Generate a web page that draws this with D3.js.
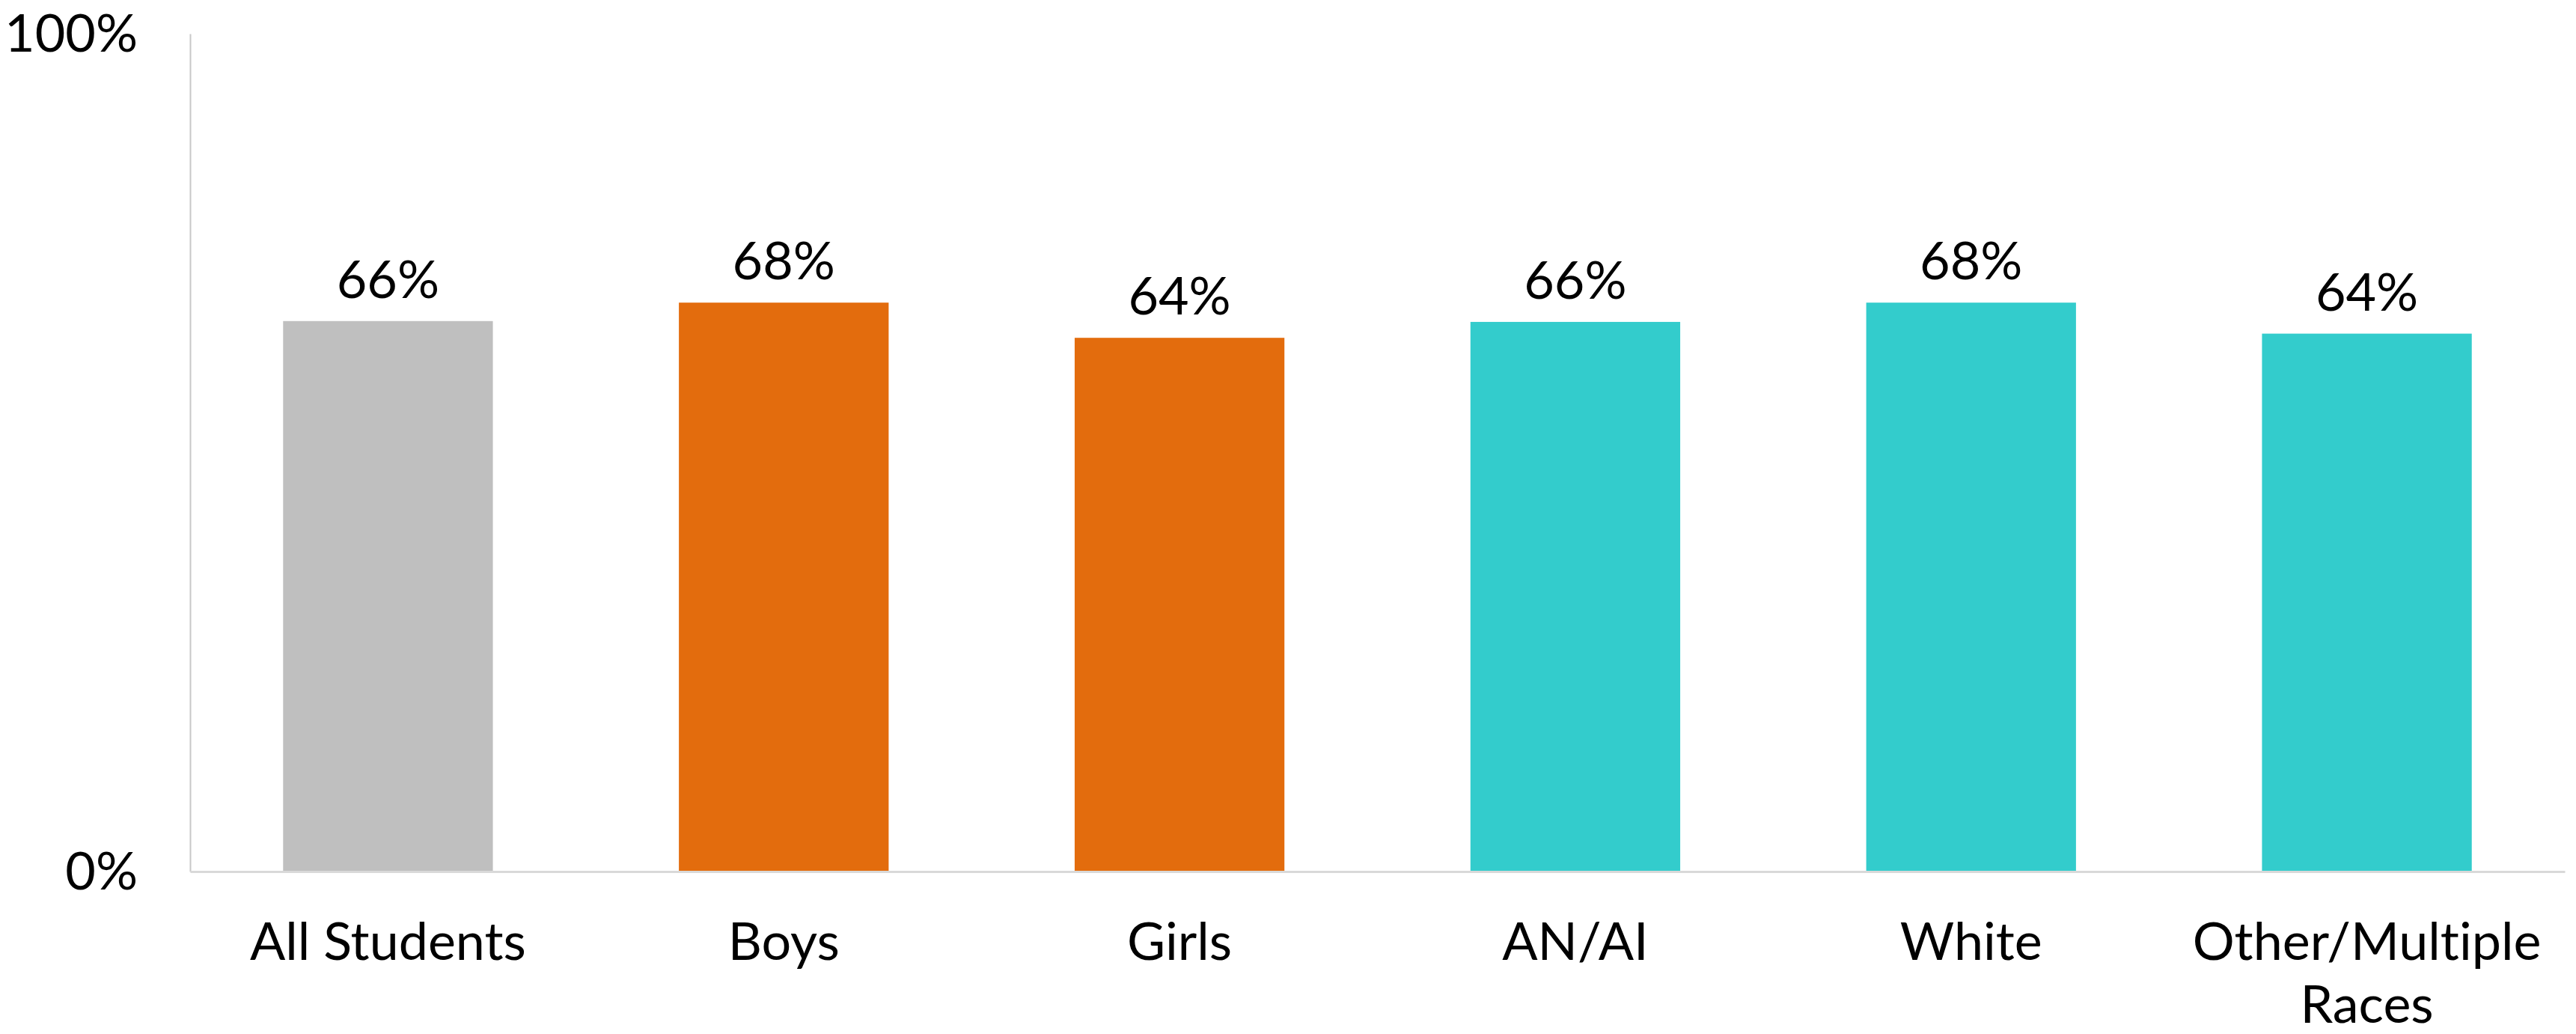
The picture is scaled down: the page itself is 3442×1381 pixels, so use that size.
<!DOCTYPE html>
<html>
<head>
<meta charset="utf-8">
<script src="https://cdn.jsdelivr.net/npm/d3@7"></script>
<style>
  body { margin: 0; background: #fff; }
  text { font-family: Lato, "Open Sans", sans-serif; fill: #000; font-variant-ligatures: none; }
</style>
</head>
<body>
<svg id="chart" width="3442" height="1381"></svg>
<script>
// values
var categories = ["All Students", "Boys", "Girls", "AN/AI", "White", "Other/Multiple Races"];
var values = [65.7, 67.9, 63.7, 65.6, 67.9, 64.2];
var labels = ["66%", "68%", "64%", "66%", "68%", "64%"];
var groups = ["all", "gender", "gender", "race", "race", "race"];
var yTicks = [0, 100];

var colors = { all: "#bfbfbf", gender: "#e36c0d", race: "#33cccc" };

var svg = d3.select("#chart");
var plotLeft = 254, plotRight = 3427, plotTop = 45, plotBottom = 1164;

var x = d3.scaleBand().domain(categories).range([plotLeft, plotRight]).paddingInner(0.47).paddingOuter(0.235);
var y = d3.scaleLinear().domain([0, 100]).range([plotBottom, plotTop]);

// bars
svg.selectAll("rect.bar")
  .data(values)
  .enter().append("rect")
  .attr("class", "bar")
  .attr("x", function(d, i){ return x(categories[i]); })
  .attr("width", x.bandwidth())
  .attr("y", function(d){ return y(d); })
  .attr("height", function(d){ return y(0) - y(d); })
  .style("fill", function(d, i){ return colors[groups[i]]; });

// value labels
svg.selectAll("text.val")
  .data(values)
  .enter().append("text")
  .attr("class", "val")
  .attr("x", function(d, i){ return x(categories[i]) + x.bandwidth() / 2; })
  .attr("y", function(d){ return y(d) - 31; })
  .attr("text-anchor", "middle")
  .style("font-size", "70px")
  .text(function(d, i){ return labels[i]; });

// y axis
var yAxis = svg.append("g").attr("transform", "translate(" + plotLeft + ",0)")
  .call(d3.axisLeft(y).tickValues(yTicks).tickSize(0).tickPadding(70).tickFormat(function(d){ return d + "%"; }));
yAxis.select(".domain").attr("stroke", "#c8c8c8").attr("stroke-width", 2);
yAxis.selectAll("text").style("font-size", "70px").attr("dy", "0.34em").style("font-family", "Lato, sans-serif");

// x axis
var xAxis = svg.append("g").attr("transform", "translate(0," + plotBottom + ")")
  .call(d3.axisBottom(x).tickSize(0).tickPadding(0));
xAxis.select(".domain").attr("stroke", "#d9d9d9").attr("stroke-width", 3);
xAxis.selectAll(".tick text").remove();
xAxis.selectAll(".tick").each(function(d){
  var t = d3.select(this).append("text")
    .attr("text-anchor", "middle")
    .style("font-size", "70px")
    .style("font-family", "Lato, sans-serif");
  var lines = d === "Other/Multiple Races" ? ["Other/Multiple", "Races"] : [d];
  lines.forEach(function(s, k){
    t.append("tspan").attr("x", 0).attr("y", 118 + k * 84).text(s);
  });
});
</script>
</body>
</html>
